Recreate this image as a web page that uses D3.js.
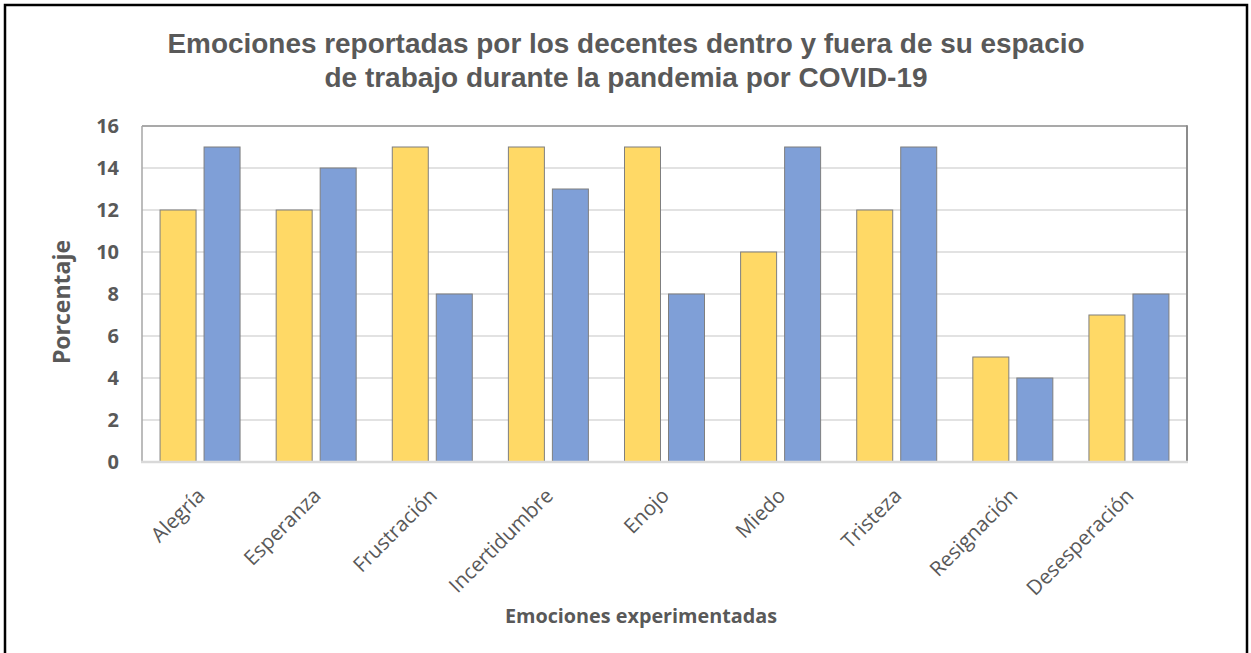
<!DOCTYPE html>
<html><head><meta charset="utf-8">
<script src="https://cdn.jsdelivr.net/npm/d3@7"></script>
<style>body{margin:0;background:#fff;}svg{display:block;}</style>
</head><body>
<script>
const categories = ["Alegría","Esperanza","Frustración","Incertidumbre","Enojo","Miedo","Tristeza","Resignación","Desesperación"];
const dentro = [12,12,15,15,15,10,12,5,7];
const fuera = [15,14,8,13,8,15,15,4,8];
const yTicks = [0,2,4,6,8,10,12,14,16];
const titleLines = ["Emociones reportadas por los decentes dentro y fuera de su espacio","de trabajo durante la pandemia por COVID-19"];
const xTitle = "Emociones experimentadas";
const yTitle = "Porcentaje";

const W = 1251, H = 653;
const svg = d3.select("body").append("svg").attr("width", W).attr("height", H);
svg.append("rect").attr("x",5).attr("y",5).attr("width",W-9).attr("height",H+10)
  .attr("fill","#fff").attr("stroke","#000").attr("stroke-width",2.5);

const L = 142, R = 1187, T = 126, B = 462;
const x = d3.scaleBand().domain(categories).range([L,R]);
const y = d3.scaleLinear().domain([0,16]).range([B,T]);
const textCol = "#595959";

// gridlines
svg.append("g").selectAll("line").data(yTicks.filter(d=>d>0 && d<16)).join("line")
  .attr("x1",L).attr("x2",R).attr("y1",d=>y(d)).attr("y2",d=>y(d))
  .attr("stroke","#d9d9d9").attr("stroke-width",1.5);

// bars
const bw = 36, gap = 8;
const g = svg.append("g");
g.selectAll(".b1").data(categories).join("rect")
  .attr("x",(d)=>x(d)+x.bandwidth()/2-gap/2-bw).attr("y",(d,i)=>y(dentro[i]))
  .attr("width",bw).attr("height",(d,i)=>B-y(dentro[i]))
  .attr("fill","#FFD966").attr("stroke","#7f7f7f").attr("stroke-width",1);
g.selectAll(".b2").data(categories).join("rect")
  .attr("x",(d)=>x(d)+x.bandwidth()/2+gap/2).attr("y",(d,i)=>y(fuera[i]))
  .attr("width",bw).attr("height",(d,i)=>B-y(fuera[i]))
  .attr("fill","#7F9FD7").attr("stroke","#7f7f7f").attr("stroke-width",1);

// plot border
svg.append("line").attr("x1",L).attr("x2",R).attr("y1",T).attr("y2",T).attr("stroke","#8c8c8c").attr("stroke-width",1.5);
svg.append("line").attr("x1",L).attr("x2",L).attr("y1",T).attr("y2",B).attr("stroke","#a6a6a6").attr("stroke-width",1.5);
svg.append("line").attr("x1",R).attr("x2",R).attr("y1",T-0.75).attr("y2",B).attr("stroke","#8c8c8c").attr("stroke-width",2);
svg.append("line").attr("x1",L-1).attr("x2",R+1).attr("y1",B).attr("y2",B).attr("stroke","#d9d9d9").attr("stroke-width",2.5);

// y axis ticks
const yAxis = d3.axisLeft(y).tickValues(yTicks).tickSize(0).tickPadding(23);
const ya = svg.append("g").attr("transform",`translate(${L},0)`).call(yAxis);
ya.select(".domain").remove();
ya.selectAll("text").attr("fill",textCol).attr("font-family","'Open Sans'").attr("font-weight","bold").attr("font-size",20);

// x labels
const xa = svg.append("g");
xa.selectAll("text").data(categories).join("text")
  .attr("transform",d=>`translate(${x(d)+x.bandwidth()/2+6},${B+35}) rotate(-45)`)
  .attr("text-anchor","end")
  .attr("fill",textCol).attr("font-family","'Open Sans'").attr("font-size",20.5)
  .text(d=>d);

// titles
const tt = svg.append("g");
tt.append("text").attr("x",626).attr("y",53).attr("text-anchor","middle")
  .attr("font-family","'Liberation Sans', Arial").attr("font-weight","bold").attr("font-size",27)
  .attr("fill",textCol).attr("textLength",917).attr("lengthAdjust","spacingAndGlyphs").text(titleLines[0]);
tt.append("text").attr("x",626).attr("y",87).attr("text-anchor","middle")
  .attr("font-family","'Liberation Sans', Arial").attr("font-weight","bold").attr("font-size",27)
  .attr("fill",textCol).attr("textLength",603).attr("lengthAdjust","spacingAndGlyphs").text(titleLines[1]);

svg.append("text").attr("x",641).attr("y",623).attr("text-anchor","middle")
  .attr("font-family","'Open Sans'").attr("font-weight","bold").attr("font-size",19.8)
  .attr("fill",textCol).text(xTitle);
svg.append("text").attr("transform","translate(70,302) rotate(-90)").attr("text-anchor","middle")
  .attr("font-family","'Open Sans'").attr("font-weight","bold").attr("font-size",23)
  .attr("fill",textCol).text(yTitle);
</script>
</body></html>
